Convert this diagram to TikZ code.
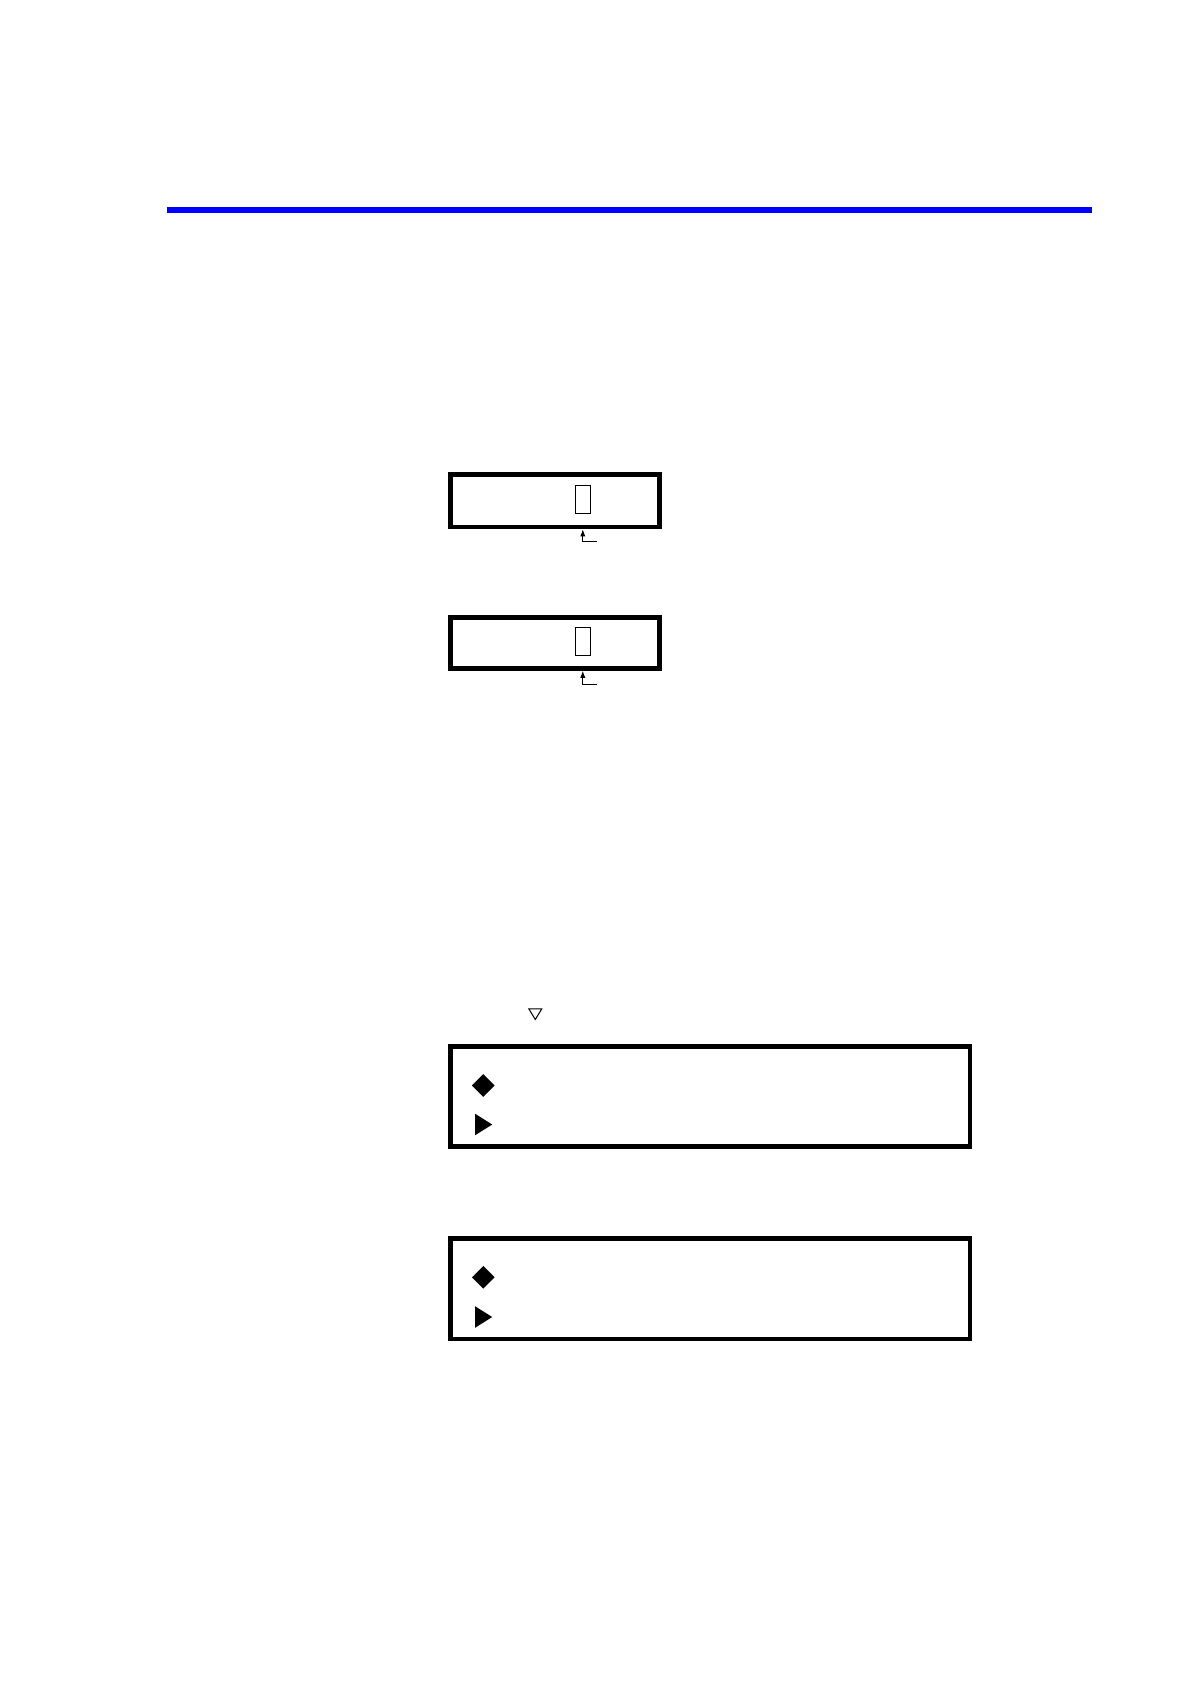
\documentclass[tikz,border=0pt]{standalone}
\usetikzlibrary{arrows.meta,shapes.geometric}

\tikzset{
  lcd/.style={draw, line width=2.3pt, inner sep=0pt},
  cursorbox/.style={draw, line width=0.5pt, minimum width=7.8pt, minimum height=14.2pt, inner sep=0pt},
  pointer/.style={line width=0.5pt, -{Latex[length=3.5pt,width=2.6pt]}},
  mark diamond/.style={diamond, fill=black, inner sep=0pt, minimum width=11.5pt, minimum height=11.5pt}
}

\begin{document}
\begin{tikzpicture}[x=0.5pt, y=-0.5pt]
        \useasboundingbox (0,0) rectangle (1190,1684);

        % Header rule
        \draw[blue, line width=3pt] (166.7,209.7) -- (1091.7,209.7);

        % First display
        \node[lcd, minimum width=104.4pt, minimum height=26.2pt] (disp1) at (555,500.8) {};
        \node[cursorbox] (cur1) at (582.8,499.2) {};
        \coordinate (end1) at (596.7,541.7);
        \draw[pointer] (end1) -- (end1 -| cur1) -- (disp1.south -| cur1);

        % Second display
        \node[lcd, minimum width=104.4pt, minimum height=25.6pt] (disp2) at (555,642.85) {};
        \node[cursorbox] (cur2) at (582.8,641.3) {};
        \coordinate (end2) at (596.7,684.3);
        \draw[pointer] (end2) -- (end2 -| cur2) -- (disp2.south -| cur2);

        % Down key symbol
        \draw[line width=0.5pt, line join=miter] (528.8,1008.8) -- (541.8,1008.8) -- (535.3,1019.5) -- cycle;

        % Menu display
        \node[lcd, minimum width=259.7pt, minimum height=50.1pt] (menu1) at (710.3,1096.65) {};
        \node[mark diamond] (dia1) at (483.3,1085.5) {};
        \coordinate (tri1) at (483.3,1124.5);
        \fill (tri1) ++(-8.3,-10.8) -- ++(17.2,10.8) -- ++(-17.2,10.8) -- cycle;

        % Menu display after selection
        \node[lcd, minimum width=259.7pt, minimum height=50.2pt] (menu2) at (710.3,1288.8) {};
        \node[mark diamond] (dia2) at (483.3,1277.3) {};
        \coordinate (tri2) at (483.3,1317);
        \fill (tri2) ++(-8.3,-10.8) -- ++(17.2,10.8) -- ++(-17.2,10.8) -- cycle;

\end{tikzpicture}
\end{document}
